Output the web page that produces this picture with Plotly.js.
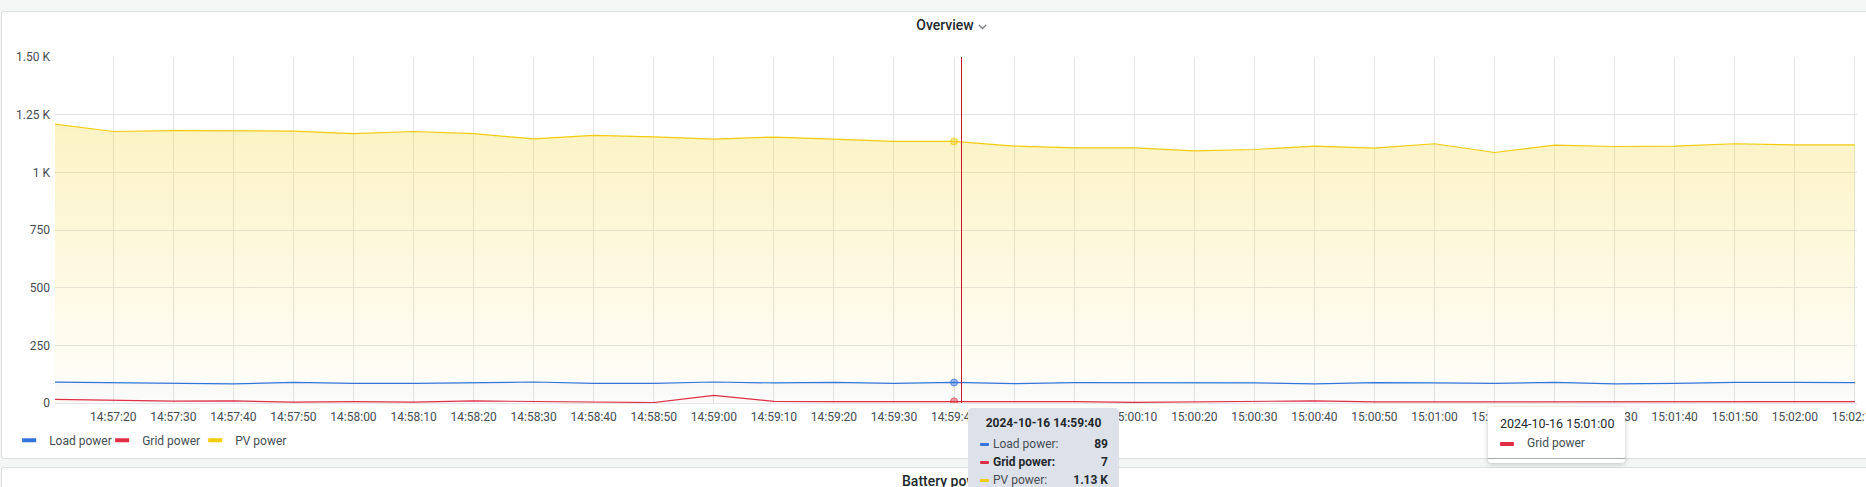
<!DOCTYPE html>
<html>
<head>
<meta charset="utf-8">
<script src="https://cdn.plot.ly/plotly-3.0.1.min.js"></script>
<style>
html,body{margin:0;padding:0;width:1866px;height:487px;overflow:hidden;background:#f4f5f5;font-family:Roboto,"Noto Sans",Arial,sans-serif;}
.panel{position:absolute;background:#fff;border:1px solid #dcdee2;border-radius:3px;box-sizing:border-box;}
#p1{left:1px;top:11px;width:1880px;height:448px;}
#p2{left:1px;top:467px;width:1880px;height:60px;}
#chart{position:absolute;left:0;top:0;width:1866px;height:487px;z-index:2;}
.ptitle{position:absolute;font-size:14px;font-weight:500;color:#24292e;white-space:nowrap;line-height:16px;}
.chev{display:inline-block;margin-left:6px;vertical-align:middle;}
#tt1{position:absolute;left:968px;top:408px;width:151px;height:110px;background:#dde2ea;border-radius:4px;z-index:5;color:#24292e;font-size:12px;}
#tt1 .date{position:absolute;left:0;width:151px;top:8px;text-align:center;font-weight:700;line-height:14px;}
#tt1 .row{position:absolute;left:12px;width:128px;height:14px;line-height:14px;}
#tt1 .sw{position:absolute;left:0;top:6px;width:9px;height:3px;border-radius:1px;}
#tt1 .lab{position:absolute;left:13px;top:0;color:#464c54;}
#tt1 .val{position:absolute;right:0;top:0;font-weight:700;color:#24292e;}
#tt2{position:absolute;left:1488px;top:407px;width:137px;height:56px;background:#fff;border-radius:3px;z-index:5;box-shadow:0 1px 5px rgba(24,26,27,0.25);}
#tt2 .date{position:absolute;left:12px;top:9px;font-size:12.5px;color:#24292e;line-height:15px;white-space:nowrap;}
#tt2 .sw{position:absolute;left:12px;top:35px;width:14px;height:4px;border-radius:1px;background:#E02F44;}
#tt2 .lab{position:absolute;left:39px;top:29px;font-size:12px;color:#464c54;line-height:15px;}
#tt2 .sep{position:absolute;left:0;right:0;top:51px;height:1px;background:#a3a9b3;}
</style>
</head>
<body>
<div id="p1" class="panel"></div>
<div id="p2" class="panel"></div>
<div class="ptitle" style="left:902px;top:473px;">Battery power<svg class="chev" width="9" height="6" viewBox="0 0 9 6"><polyline points="1,1 4.5,4.5 8,1" fill="none" stroke="#7b8087" stroke-width="1.3"/></svg></div>
<div class="ptitle" id="ovt" style="left:978px;top:17px;"><svg width="9" height="6" viewBox="0 0 9 6"><polyline points="1,1 4.5,4.5 8,1" fill="none" stroke="#7b8087" stroke-width="1.3"/></svg></div>
<div id="chart"></div>
<div id="tt1">
  <div class="date">2024-10-16 14:59:40</div>
  <div class="row" style="top:29px;"><div class="sw" style="background:#3274D9"></div><div class="lab">Load power:</div><div class="val">89</div></div>
  <div class="row" style="top:47px;"><div class="sw" style="background:#E02F44"></div><div class="lab" style="font-weight:700;color:#24292e">Grid power:</div><div class="val">7</div></div>
  <div class="row" style="top:65px;"><div class="sw" style="background:#F2CC0C"></div><div class="lab">PV power:</div><div class="val">1.13 K</div></div>
</div>
<div id="tt2">
  <div class="date">2024-10-16 15:01:00</div>
  <div class="sw"></div>
  <div class="lab">Grid power</div>
  <div class="sep"></div>
</div>
<script>
// ---- data ----
const times = [
  '2024-10-16 14:57:10','2024-10-16 14:57:20','2024-10-16 14:57:30','2024-10-16 14:57:40','2024-10-16 14:57:50',
  '2024-10-16 14:58:00','2024-10-16 14:58:10','2024-10-16 14:58:20','2024-10-16 14:58:30','2024-10-16 14:58:40','2024-10-16 14:58:50',
  '2024-10-16 14:59:00','2024-10-16 14:59:10','2024-10-16 14:59:20','2024-10-16 14:59:30','2024-10-16 14:59:40','2024-10-16 14:59:50',
  '2024-10-16 15:00:00','2024-10-16 15:00:10','2024-10-16 15:00:20','2024-10-16 15:00:30','2024-10-16 15:00:40','2024-10-16 15:00:50',
  '2024-10-16 15:01:00','2024-10-16 15:01:10','2024-10-16 15:01:20','2024-10-16 15:01:30','2024-10-16 15:01:40','2024-10-16 15:01:50',
  '2024-10-16 15:02:00','2024-10-16 15:02:10'
];
const loadPower = [91,89,84,83,89,85,85,88,91,85,85,91,87,89,85,89,84,88,88,88,87,83,88,87,85,89,83,85,89,89,88];
const gridPower = [16,11,8,9,4,6,4,9,6,6,2,33,7,6,6,7,7,6,3,6,7,9,5,5,3,6,3,6,6,6,6];
const pvPower = [1210,1177,1181,1180,1179,1168,1177,1168,1145,1160,1154,1144,1153,1144,1134,1134,1114,1106,1106,1093,1099,1114,1105,1124,1086,1118,1112,1114,1124,1119,1119];
const seriesNames = ['Load power','Grid power','PV power'];
const seriesColors = ['#3274D9','#E02F44','#F2CC0C'];
const yTickVals = [0,250,500,750,1000,1250,1500];
const yTickText = ['0','250','500','750','1 K','1.25 K','1.50 K'];
const xRange = ['2024-10-16 14:57:10.3','2024-10-16 15:02:10.35'];
const hoverTime = '2024-10-16 14:59:40';
const cursorTime = '2024-10-16 14:59:41.24';
const titleText = 'Overview';

function rgba(hex,a){const n=parseInt(hex.slice(1),16);return 'rgba('+(n>>16&255)+','+(n>>8&255)+','+(n&255)+','+a+')';}
const seriesValues = [loadPower, gridPower, pvPower];
const gradTop = [0.12, 0.12, 0.3];
const gradStop = [600, 600, 1500];

const traces = [];
// draw PV first so its fill sits underneath
[2,1,0].forEach(function(i){
  traces.push({
    type:'scatter', mode:'lines', x:times, y:seriesValues[i], name:seriesNames[i],
    line:{color:seriesColors[i], width:1.2, shape:'linear'},
    fill:'tozeroy',
    fillgradient:{type:'vertical', start:0, stop:gradStop[i],
      colorscale:[[0, rgba(seriesColors[i],0.015)],[1, rgba(seriesColors[i],gradTop[i])]]},
    showlegend:false, hoverinfo:'skip'
  });
});
// hover point markers
const hi = times.indexOf(hoverTime);
[2,1,0].forEach(function(i){
  traces.push({
    type:'scatter', mode:'markers', x:[times[hi]], y:[seriesValues[i][hi]],
    marker:{size:7, color:rgba(seriesColors[i],0.45), line:{width:1, color:rgba(seriesColors[i],0.7)}},
    showlegend:false, hoverinfo:'skip'
  });
});
// legend entries
[0,1,2].forEach(function(i){
  traces.push({
    type:'scatter', mode:'markers', x:[null], y:[null], name:seriesNames[i],
    marker:{symbol:'line-ew', size:10, color:seriesColors[i], line:{width:4, color:seriesColors[i]}},
    showlegend:true, legendrank:i+1
  });
});

const gridColor = '#e4e5e7';
const layout = {
  width:1866, height:487,
  margin:{l:49, r:9, t:57, b:84, pad:0},
  paper_bgcolor:'rgba(0,0,0,0)', plot_bgcolor:'rgba(0,0,0,0)',
  font:{family:'Roboto, "Noto Sans", Arial, sans-serif', size:12, color:'#464c54'},
  title:{text:titleText, font:{size:14, weight:500, color:'#24292e'}, xref:'container', yref:'container',
         x:945/1866, xanchor:'center', y:1-25/487, yanchor:'middle'},
  xaxis:{type:'date', range:xRange, tick0:'2024-10-16 14:57:20', dtick:10000, tickformat:'%H:%M:%S',
         showgrid:true, gridcolor:gridColor, gridwidth:1, zeroline:false, showline:true, linecolor:gridColor, linewidth:1,
         ticks:'', ticklabelstandoff:3, ticklabeloverflow:'allow', tickfont:{size:12, color:'#464c54'}, fixedrange:true},
  yaxis:{range:[0,1500], tickmode:'array', tickvals:yTickVals, ticktext:yTickText,
         showgrid:true, gridcolor:gridColor, gridwidth:1, zeroline:false, showline:false,
         ticks:'', ticklabelstandoff:4, tickfont:{size:12, color:'#464c54'}, fixedrange:true},
  showlegend:true,
  legend:{orientation:'h', x:(3-49)/1808, xanchor:'left', y:(402.9-425.7)/345.6, yanchor:'top',
          entrywidth:48, entrywidthmode:'pixels', itemwidth:30, bgcolor:'rgba(0,0,0,0)', borderwidth:0,
          font:{size:12, color:'#464c54'}, traceorder:'normal'},
  shapes:[{type:'line', xref:'x', yref:'paper', x0:cursorTime, x1:cursorTime, y0:0, y1:1,
           line:{color:'#C4162A', width:1}}],
  hovermode:false
};
Plotly.newPlot('chart', traces, layout, {displayModeBar:false, staticPlot:true});
</script>
</body>
</html>
